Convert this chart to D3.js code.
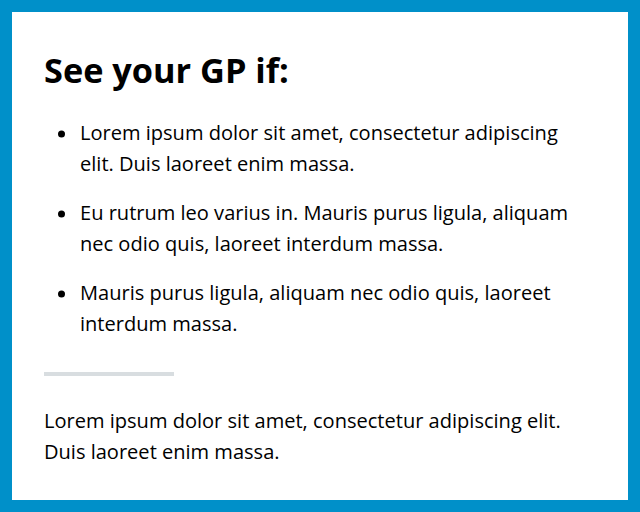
<!DOCTYPE html>
<html>
<head>
<meta charset="utf-8">
<script src="https://cdn.jsdelivr.net/npm/d3@7"></script>
<style>
  html, body { margin: 0; padding: 0; background: #fff; }
  svg { display: block; }
</style>
</head>
<body>
<div id="card"></div>
<script>
// Content
const heading = 'See your GP if:';
const bulletItems = [
  ['Lorem ipsum dolor sit amet, consectetur adipiscing', 'elit. Duis laoreet enim massa.'],
  ['Eu rutrum leo varius in. Mauris purus ligula, aliquam', 'nec odio quis, laoreet interdum massa.'],
  ['Mauris purus ligula, aliquam nec odio quis, laoreet', 'interdum massa.']
];
const footerLines = [
  'Lorem ipsum dolor sit amet, consectetur adipiscing elit.',
  'Duis laoreet enim massa.'
];

const width = 640;
const height = 512;
const border = 12;
const blue = '#0090c9';
const textColor = '#212b32';
const fontFamily = '"Open Sans", "Noto Sans", sans-serif';

const svg = d3.select('#card')
  .append('svg')
  .attr('width', width)
  .attr('height', height);

svg.append('rect')
  .attr('width', width)
  .attr('height', height)
  .attr('fill', blue);

svg.append('rect')
  .attr('x', border)
  .attr('y', border)
  .attr('width', width - border * 2)
  .attr('height', height - border * 2)
  .attr('fill', '#fff');

// size a font so that a sample line fills the measured width
function fitSize(sample, targetWidth, weight) {
  const t = svg.append('text')
    .attr('font-family', fontFamily)
    .attr('font-weight', weight)
    .attr('font-size', 100)
    .text(sample);
  const w = t.node().getComputedTextLength();
  t.remove();
  return 100 * targetWidth / w;
}

const headSize = fitSize(heading, 245, 700);
const bodySize = fitSize(bulletItems[0][0], 478, 400);

// vertical positions
const lineStep = 30.7;
const itemY = d3.scaleLinear().domain([0, 1]).range([140, 220]);
const footerY = d3.scaleLinear().domain([0, 1]).range([428, 428 + lineStep]);

svg.append('text')
  .attr('x', 44)
  .attr('y', 83)
  .attr('font-family', fontFamily)
  .attr('font-weight', 700)
  .attr('font-size', headSize)
  .attr('fill', '#000')
  .text(heading);

const items = svg.selectAll('.item')
  .data(bulletItems)
  .enter()
  .append('g')
  .attr('class', 'item')
  .attr('transform', (d, i) => `translate(0,${itemY(i)})`);

items.append('circle')
  .attr('cx', 61.5)
  .attr('cy', -6)
  .attr('r', 3.5)
  .attr('fill', '#000');

items.selectAll('text')
  .data(d => d)
  .enter()
  .append('text')
  .attr('x', 80)
  .attr('y', (d, j) => j * lineStep)
  .attr('font-family', fontFamily)
  .attr('font-size', bodySize)
  .attr('fill', '#000')
  .text(d => d);

svg.append('rect')
  .attr('x', 44)
  .attr('y', 372)
  .attr('width', 130)
  .attr('height', 4)
  .attr('fill', '#d8dde0');

svg.selectAll('.footer')
  .data(footerLines)
  .enter()
  .append('text')
  .attr('class', 'footer')
  .attr('x', 44)
  .attr('y', (d, i) => footerY(i))
  .attr('font-family', fontFamily)
  .attr('font-size', bodySize)
  .attr('fill', '#000')
  .text(d => d);
</script>
</body>
</html>
